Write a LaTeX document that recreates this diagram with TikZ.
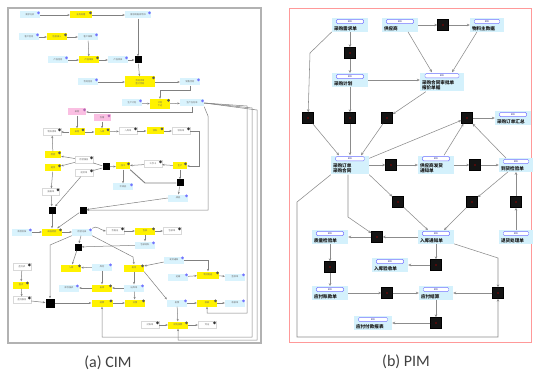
\documentclass[tikz,border=0pt]{standalone}
\usepackage{fontspec}
\setmainfont{Carlito}
\newfontfamily\cjk{Noto Sans CJK SC}
\usetikzlibrary{arrows.meta,calc}
\newcommand\cimn[5][]{\node[cim,cim#4,#1] (#2) at (#3) {#5};
  \fill[cim#4ic] ([xshift=-1.8pt,yshift=-1.6pt]#2.north east) circle (1.5pt);}
\newcommand\pimn[4]{\node[pn=#3] (#1) at (#2) {\rule{0pt}{10.5pt}#4};
  \node[hdr, minimum width=#3*0.85] at ([yshift=-3.4pt]#1.north) {BO};}
\begin{document}
\begin{tikzpicture}[x=1pt,y=-1pt,
  ln/.style={draw=black!50, line width=0.5pt},
  ar/.style={ln, -{Stealth[length=2.4pt,width=2pt]}},
  par/.style={draw=black!45, line width=0.55pt, -{Stealth[length=3pt,width=2.6pt]}},
  cim/.style={rectangle, minimum width=20pt, minimum height=7pt, inner sep=0.4pt,
    font=\cjk\fontsize{2.2}{2.6}\selectfont, text=black!60, align=center},
  cimcy/.style={fill=cyan!15},
  cimyl/.style={fill=yellow},
  cimpk/.style={fill=magenta!25},
  cimgy/.style={fill=white, draw=black!15},
  cimcyic/.style={fill=blue!55},
  cimylic/.style={fill=black!65},
  cimpkic/.style={fill=violet!60},
  cimgyic/.style={fill=black!80},
  blk/.style={fill=black, minimum size=7pt, inner sep=0pt},
  pn/.style={fill=cyan!17, inner xsep=2pt, inner ysep=1.2pt, text width=#1, align=left,
    font=\cjk\bfseries\fontsize{4.6}{5.6}\selectfont, text=black!90},
  hdr/.style={draw=blue!55, fill=white, rounded corners=1.2pt, minimum height=4.2pt,
    inner sep=0pt, font=\sffamily\fontsize{2.5}{3}\selectfont, text=blue!40!black},
  pblk/.style={fill=black!92, draw=black, minimum size=11pt, inner sep=0pt,
    path picture={\fill[red!55!black] (path picture bounding box.center) circle (0.9pt);}},
  captext/.style={font=\fontsize{16}{18}\selectfont, text=black!75}
]
\useasboundingbox (0,0) rectangle (533,377);
\fill[white] (0,0) rectangle (533,377);
\draw[draw=black!30, line width=1.3pt] (8,8) rectangle (261,343);
\draw[draw=red!40, line width=1pt] (289,9) rectangle (531,342);

% ---------------- CIM ----------------
\cimn{C1}{30,15}{cy}{需求分析}
\cimn[minimum width=22pt]{Y1}{81,15}{yl}{业务处理}
\cimn[minimum width=26pt]{C2}{138,15}{cy}{需求规格说明书}
\cimn{C3}{29,37}{cy}{客户信息}
\cimn{Y2}{57,37}{yl}{信息录入}
\cimn{C4}{88,37}{cy}{客户档案}
\cimn{C5}{58,60}{cy}{产品信息}
\cimn{Y3}{89,60}{yl}{产品审核}
\cimn{C6}{118,60}{cy}{产品目录}
\node[blk] (Ba) at (138,60) {};
\cimn{C7}{88,82}{cy}{合同信息}
\cimn[minimum width=30pt,minimum height=11pt]{Y4}{140,82}{yl}{合同评审\\签订合同}
\cimn{C8}{190,82}{cy}{销售合同}
\cimn{C9}{132,103}{cy}{生产计划}
\cimn[minimum height=10pt]{Y5}{160,104}{yl}{计划\\下达}
\cimn[minimum width=24pt]{C10}{192,103}{cy}{生产任务单}
\cimn[minimum width=18pt]{P1}{77,112}{pk}{采购}
\cimn[minimum width=17pt]{P2}{102,118}{pk}{仓储}
\cimn[minimum width=18pt]{G1}{52,132}{gy}{物料清单}
\cimn[minimum width=15pt]{Y6}{77,132}{yl}{采购}
\cimn[minimum width=15pt]{Y7}{102,132}{yl}{入库}
\cimn[minimum width=18pt]{G2}{128,131}{gy}{入库单}
\cimn[minimum width=17pt]{Y8}{155,131}{yl}{领料}
\cimn[minimum width=18pt]{G3}{181,131}{gy}{领料单}
\cimn[minimum width=16pt]{Y9}{53,155}{yl}{检验}
\cimn[minimum width=16pt]{Y10}{53,168}{yl}{退货}
\cimn[minimum width=18pt]{G4}{84,160}{gy}{检验报告}
\cimn[minimum width=18pt]{G5}{84,173}{gy}{退货单}
\node[blk] (Bb) at (106,167) {};
\cimn[minimum width=14pt]{Y11}{123,166}{yl}{加工}
\cimn[minimum width=18pt]{G6}{153,164}{gy}{工序卡}
\cimn[minimum width=14pt]{Y12}{180,166}{yl}{生产}
\cimn{C11}{123,187}{cy}{半成品}
\node[blk] (Bc) at (180,183) {};
\cimn{C12}{178,198}{cy}{成品}
\cimn[minimum width=17pt]{G8}{51,192}{gy}{报废单}
\node[blk] (Bd) at (52,210) {};
\node[blk] (Be) at (83,210) {};
\cimn{C13}{22,232}{cy}{质检标准}
\cimn{Y13}{52,232}{yl}{成品检验}
\cimn{C14}{82,232}{cy}{检验记录}
\cimn[minimum width=18pt]{G9}{115,231}{gy}{合格证}
\cimn{Y14}{145,231}{yl}{包装}
\cimn[minimum width=18pt]{G10}{172,231}{gy}{包装单}
\cimn{C15}{145,245}{cy}{包装材料}
\node[blk] (Bf) at (78,247) {};
\cimn{Y15}{71,268}{yl}{入库}
\cimn{C16}{102,267}{cy}{库存}
\cimn{Y16}{134,268}{yl}{发货}
\cimn{C17}{174,260}{cy}{发货通知}
\cimn[minimum width=22pt]{Y17}{208,275}{yl}{物流配送}
\cimn{C18}{178,277}{cy}{运输}
\cimn{C19}{235,277}{cy}{签收单}
\cimn[minimum width=18pt]{G11}{22,267}{gy}{盘点表}
\cimn[minimum width=16pt]{Y18}{21,285}{yl}{盘点}
\cimn[minimum width=18pt]{G12}{22,300}{gy}{盘点报告}
\cimn{C20}{69,288}{cy}{库存报表}
\cimn{Y19}{102,288}{yl}{出库}
\cimn{C21}{134,288}{cy}{出库单}
\node[blk, minimum size=9pt] (Bg) at (50,303) {};
\cimn[minimum width=21pt]{Y20}{102,303}{yl}{结算}
\cimn{Y21}{135,303}{yl}{开票}
\cimn{C22}{177,303}{cy}{发票}
\cimn{Y22}{207,303}{yl}{收款}
\cimn{C23}{235,303}{cy}{收款单}
\cimn[minimum width=18pt]{G13}{150,325}{gy}{对账单}
\cimn[minimum width=20pt]{Y23}{178,325}{yl}{财务核算}
\cimn[minimum width=18pt]{G14}{207,325}{gy}{凭证}

\draw[ar] (C1) -- (Y1);
\draw[ar] (Y1) -- (C2);
\draw[ar] (C3) -- (Y2);
\draw[ar] (Y2) -- (C4);
\draw[ar] (C4) -- (Y3);
\draw[ar] (C5) -- (Y3);
\draw[ar] (Y3) -- (C6);
\draw[ar] (C6) -- (Ba);
\draw[ar] (C2) -- (Ba);
\draw[ar] (Ba) -- (Y4);
\draw[ar] (C7) -- (Y4);
\draw[ar] (Y4) -- (C8);
\draw[ar] (C8.south) -- ++(0,5) -| (Y5.north);
\draw[ar] (C9) -- (Y5);
\draw[ar] (Y5) -- (C10);
\draw[ar] (C10.south) |- (P1.east);
\draw[ar] (P1) -- (Y6);
\draw[ar] (P2) -- (Y7);
\draw[ar] (Y6) -- (Y7);
\draw[ar] (Y7) -- (G2);
\draw[ar] (G2) -- (Y8);
\draw[ar] (Y8) -- (G3);
\draw[ar] (Y6) -- (G1);
\draw[ar] (Y9) -- (G1);
\draw[ar] (G3.east) -- ++(9,0) |- (Y12.east);
\draw[ar] (Y12) -- (G6);
\draw[ar] (G6) -- (Y11);
\draw[ar] (Bb) -- (Y11);
\draw[ln] (G4) -- (Bb);
\draw[ln] (G5) -- (Bb);
\draw[ar] (G4) -- (Y9);
\draw[ar] (G4) -- (Y10);
\draw[ar] (Y11) -- (C11);
\draw[ar] (Y12) -- (Bc);
\draw[ar] (Bc) -- (C12);
\draw[ln, line width=0.9pt] (Y11.south east) -- (145,183) -- (Bc);
\draw[ar] (Y10) -- (G8);
\draw[ar] (G8) -- (Bd);
\draw[ar] (G5) -- (Bd);
\draw[ar] (Bd) -- (Y13);
\draw[ar] (C12.west) -- (Be);
\draw[ar] (C10.south east) -- (208,116) -- (208,210) -- (Be.east);
\draw[ar] (Be) -- (Y13);
\draw[ar] (C13) -- (Y13);
\draw[ar] (Y13) -- (C14);
\draw[ar] (C14.north east) to[out=40,in=170] (G9.west);
\draw[ar] (G9) -- (Y14);
\draw[ar] (Y14) -- (G10);
\draw[ar] (Y14) -- (C15);
\draw[ar] (C14) -- (Bf);
\draw[ar] (C15) -- (Bf);
\draw[ar] (Bf) -- (Y15);
\draw[ar] (C16) -- (Y15);
\draw[ar] (C14.south east) -- (133,257) -- (Y16.north);
\draw[ar] (C17) -- (Y16);
\draw[ar] (C17.east) -| (Y17.north);
\draw[ar] (C18) -- (Y17);
\draw[ar] (Y17) -- (C19);
\draw[ar] (Y16.south east) -- (C22.north west);
\draw[ar] (G11) -- (Y18);
\draw[ar] (Y18) -- (G12);
\draw[ar] (G12) -- (Bg);
\draw[ar, line width=0.8pt] (Bg) -- (Y20);
\draw[ar] (C14.south west) -- (50,245) -- (Bg.north);
\draw[ar] (C16) -- (Y19);
\draw[ar] (Y19) -- (C20);
\draw[ar] (C21) -- (Y19);
\draw[ar] (Y16) -- (C21);
\draw[ar] (Y20) -- (Y21);
\draw[ar] (C21) -- (Y21);
\draw[ar] (C22) -- (Y22);
\draw[ar] (Y22) -- (C23);
\draw[ar] (C22) -- (Y23);
\draw[ar] (G13) -- (Y23);
\draw[ar] (Y23) -- (G14);
\draw[ar] (C10.east) -- (247,106) -- (247,313) -| (Y22.south);
\draw[ar] (C10.east) -- (252,108) -- (252,337) -| (Y20.south);
\draw[ar] (C10.east) -- (257,110) -- (257,340) -| (Y23.south);

% ---------------- PIM ----------------
\pimn{N1}{350,25}{32pt}{采购需求单}
\pimn{N2}{400,25}{32pt}{供应商}
\pimn{N3}{487,25}{30pt}{物料主数据}
\pimn{N4}{350,80}{32pt}{采购计划}
\pimn{N5}{442,82}{40pt}{采购合同审批单\\报价单据}
\pimn{N6}{513,118}{32pt}{采购订单汇总}
\pimn{N7}{350,165}{34pt}{采购订单\\采购合同}
\pimn{N8}{436,165}{32pt}{供应商发货\\通知单}
\pimn{N9}{516,165}{30pt}{到货检验单}
\pimn{N10}{330,237}{32pt}{质量检验单}
\pimn{N11}{436,237}{32pt}{入库通知单}
\pimn{N12}{516,237}{30pt}{退货处理单}
\pimn{N13}{390,265}{32pt}{入库验收单}
\pimn{N14}{330,293}{32pt}{应付账款单}
\pimn{N15}{436,293}{30pt}{应付结算}
\pimn{N16}{373,323}{34pt}{应付付款报表}

\node[pblk] (B1) at (443,25) {};
\node[pblk] (B2) at (350,53) {};
\node[pblk] (B3) at (308,118) {};
\node[pblk] (B4) at (350,118) {};
\node[pblk] (B5) at (387,118) {};
\node[pblk] (B6) at (467,118) {};
\node[pblk] (B7) at (391,165) {};
\node[pblk] (B8) at (475,165) {};
\node[pblk] (B9) at (398,202) {};
\node[pblk] (B10) at (472,202) {};
\node[pblk] (B11) at (516,202) {};
\node[pblk] (B12) at (377,237) {};
\node[pblk] (B13) at (436,265) {};
\node[pblk] (B14) at (330,267) {};
\node[pblk] (B15) at (387,293) {};
\node[pblk] (B16) at (498,293) {};
\node[pblk] (B17) at (436,323) {};

\draw[par] (N1) -- (B2);
\draw[par] (B2) -- (N4);
\draw[par] (N2) -- (B1);
\draw[par] (B1) -- (N3);
\draw[par] ([xshift=8pt]N2.south) -- ([xshift=-10pt]N5.north);
\draw[par] ([xshift=-10pt]N3.south) -- ([xshift=10pt]N5.north);
\draw[par] (N4.east) -- (N4.east -| N5.west);
\draw[par] (N1.south west) -- (310,53) -- (B3);
\draw[par] ([xshift=6pt]N5.south west) -- (B5);
\draw[par] (B3) -- ([xshift=-11pt]N7.north);
\draw[par] (B4) -- (N7);
\draw[par] (N4) -- (B4);
\draw[par] (B5) -- ([xshift=11pt]N7.north);
\draw[par] ([yshift=-3pt]N7.north east) -- (B6);
\draw[par] (B6) -- (N6);
\draw[par] ([xshift=8pt]N8.north) -- (B6);
\draw[par] ([xshift=-10pt]N9.north) -- (B6);
\draw[par] (N7) -- (B7);
\draw[par] (B7) -- (N8);
\draw[par] (N8) -- (B8);
\draw[par] (B8) -- (N9);
\draw[par] (N7.south east) -- (B9);
\draw[par] (B9) -- ([xshift=-8pt]N11.north);
\draw[par] ([xshift=-8pt]N9.south) -- (B10);
\draw[par] (B10) -- ([xshift=8pt]N11.north);
\draw[par] (N12) -- (B11);
\draw[par] (B11) -- (N9);
\draw[par] ([xshift=-2pt]N7.south) -- (348,217) -- (B12);
\draw[par] (N11) -- (B12);
\draw[par] (B12) -- (N10);
\draw[par] (N10) -- (B14);
\draw[par] (B14) -- (N14);
\draw[par] (N11) -- (B13);
\draw[par] (B13) -- (N13);
\draw[par] (N14) -- (B15);
\draw[par] (B15) -- (N15);
\draw[par] (N11.south east) -- (498,258) -- (B16);
\draw[par] (B16) -- (N15);
\draw[par] (N15) -- (B17);
\draw[par] (B17) -- (N16);
\draw[par] (N7.south west) -- (297,202) -- (297,337) -- (498,337) -- (B16);

\node[captext] (capa) at (108,363) {(a) CIM};
\node[captext] (capb) at (406,362) {(b) PIM};
\end{tikzpicture}
\end{document}
